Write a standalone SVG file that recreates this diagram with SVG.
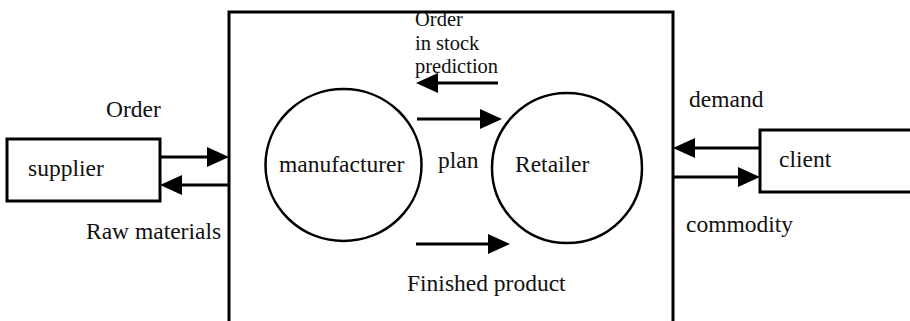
<svg xmlns="http://www.w3.org/2000/svg" width="910" height="321" viewBox="0 0 910 321">
  <style>
    .lbl { font-family: "Liberation Serif", "Times New Roman", serif; font-size: 23.5px; fill: #111; }
    .sm { font-size: 20.5px; }
    .box { fill: #fff; stroke: #000; stroke-width: 3; }
    .node { fill: #fff; stroke: #000; stroke-width: 2.5; }
    .flow { stroke: #000; stroke-width: 3; fill: none; marker-end: url(#head); }
  </style>
  <defs>
    <marker id="head" viewBox="0 0 22 20" refX="16" refY="10" markerWidth="22" markerHeight="20" markerUnits="userSpaceOnUse" orient="auto">
      <path d="M0,0 L22,10 L0,20 Z" fill="#000"/>
    </marker>
  </defs>
  <rect width="910" height="321" fill="#fff"/>

  <!-- enterprise boundary (open at the bottom) -->
  <g id="enterprise">
    <path class="box" d="M229,330 V12 H673 V330" fill="none"/>
  </g>

  <g id="supplier">
    <rect class="box" x="7" y="139" width="153" height="62"/>
    <text class="lbl" x="28" y="176">supplier</text>
  </g>

  <g id="client">
    <rect class="box" x="760" y="130" width="160" height="62"/>
    <text class="lbl" x="779" y="167">client</text>
  </g>

  <g id="manufacturer">
    <ellipse class="node" cx="343.5" cy="165" rx="78" ry="76"/>
    <text class="lbl" x="279" y="172">manufacturer</text>
  </g>

  <g id="retailer">
    <ellipse class="node" cx="567" cy="168" rx="75" ry="75"/>
    <text class="lbl" x="515" y="172">Retailer</text>
  </g>

  <g id="connectors">
    <line class="flow" x1="160" y1="157" x2="223" y2="157"/>
    <line class="flow" x1="229" y1="185" x2="166" y2="185"/>
    <line class="flow" x1="498" y1="83" x2="422" y2="83"/>
    <line class="flow" x1="417" y1="119" x2="496" y2="119"/>
    <line class="flow" x1="416" y1="244" x2="504" y2="244"/>
    <line class="flow" x1="760" y1="148" x2="679" y2="148"/>
    <line class="flow" x1="673" y1="177" x2="754" y2="177"/>
  </g>

  <g id="labels">
    <text class="lbl" x="106" y="117">Order</text>
    <text class="lbl" x="86" y="239">Raw materials</text>
    <text class="lbl sm" x="415" y="26">Order</text>
    <text class="lbl sm" x="415" y="50">in stock</text>
    <text class="lbl sm" x="415" y="73">prediction</text>
    <text class="lbl" x="438" y="168">plan</text>
    <text class="lbl" x="407" y="291">Finished product</text>
    <text class="lbl" x="689" y="107">demand</text>
    <text class="lbl" x="686" y="232">commodity</text>
  </g>
</svg>
